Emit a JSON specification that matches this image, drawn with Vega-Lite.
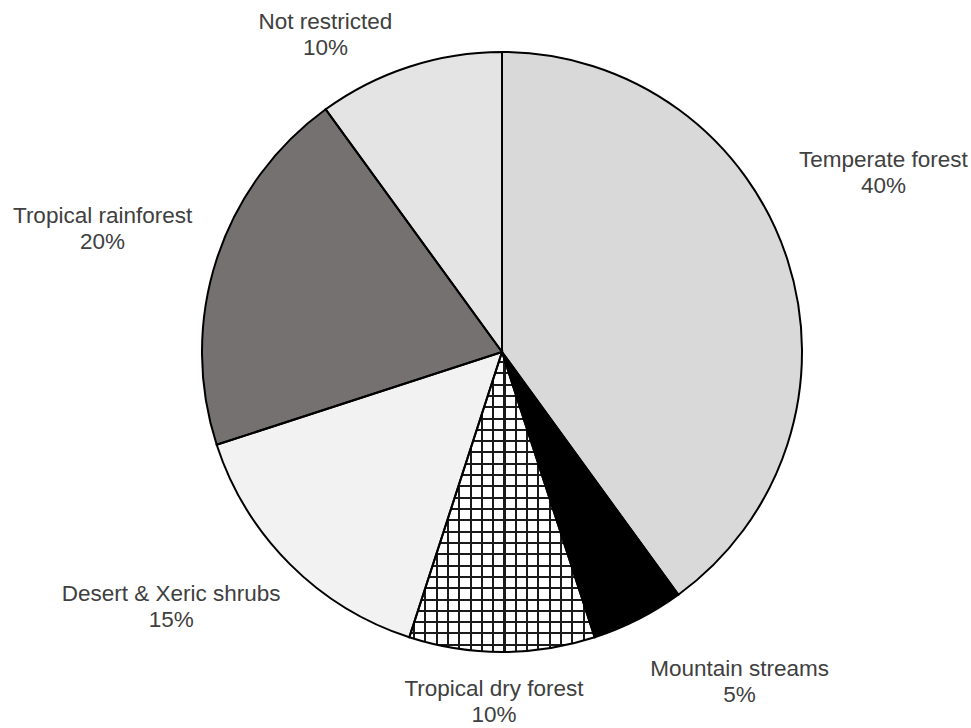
{
  "$schema": "https://vega.github.io/schema/vega-lite/v6.json",
  "width": 600,
  "height": 600,
  "autosize": "none",
  "padding": {"left": 202, "top": 52, "right": 169, "bottom": 76},
  "background": "white",
  "config": {"view": {"stroke": null}},
  "data": {
    "values": [
      {"cat": "Temperate forest", "share": 0.40, "idx": 1},
      {"cat": "Mountain streams", "share": 0.05, "idx": 2},
      {"cat": "Tropical dry forest", "share": 0.10, "idx": 3},
      {"cat": "Desert & Xeric shrubs", "share": 0.15, "idx": 4},
      {"cat": "Tropical rainforest", "share": 0.20, "idx": 5},
      {"cat": "Not restricted", "share": 0.10, "idx": 6}
    ]
  },
  "encoding": {
    "theta": {"field": "share", "type": "quantitative", "stack": true},
    "order": {"field": "idx", "type": "quantitative"}
  },
  "layer": [
    {
      "mark": {"type": "arc"},
      "encoding": {
        "color": {
          "field": "cat",
          "type": "nominal",
          "legend": null,
          "scale": {
            "domain": ["Temperate forest", "Mountain streams", "Tropical dry forest", "Desert & Xeric shrubs", "Tropical rainforest", "Not restricted"],
            "range": ["#d9d9d9", "#000000", "#ffffff", "#f2f2f2", "#767171", "#e4e4e4"]
          }
        }
      }
    },
    {
      "mark": {"type": "arc"},
      "encoding": {
        "fill": {
          "condition": {
            "test": "datum.cat === 'Tropical dry forest'",
            "value": {
              "gradient": "linear", "x1": 0, "y1": 0, "x2": 1, "y2": 0,
              "stops": [
                {"offset": 0.020, "color": "rgba(0,0,0,0)"}, {"offset": 0.020, "color": "#1a1a1a"}, {"offset": 0.031, "color": "#1a1a1a"}, {"offset": 0.031, "color": "rgba(0,0,0,0)"},
                {"offset": 0.081, "color": "rgba(0,0,0,0)"}, {"offset": 0.081, "color": "#1a1a1a"}, {"offset": 0.092, "color": "#1a1a1a"}, {"offset": 0.092, "color": "rgba(0,0,0,0)"},
                {"offset": 0.142, "color": "rgba(0,0,0,0)"}, {"offset": 0.142, "color": "#1a1a1a"}, {"offset": 0.153, "color": "#1a1a1a"}, {"offset": 0.153, "color": "rgba(0,0,0,0)"},
                {"offset": 0.203, "color": "rgba(0,0,0,0)"}, {"offset": 0.203, "color": "#1a1a1a"}, {"offset": 0.214, "color": "#1a1a1a"}, {"offset": 0.214, "color": "rgba(0,0,0,0)"},
                {"offset": 0.264, "color": "rgba(0,0,0,0)"}, {"offset": 0.264, "color": "#1a1a1a"}, {"offset": 0.275, "color": "#1a1a1a"}, {"offset": 0.275, "color": "rgba(0,0,0,0)"},
                {"offset": 0.325, "color": "rgba(0,0,0,0)"}, {"offset": 0.325, "color": "#1a1a1a"}, {"offset": 0.336, "color": "#1a1a1a"}, {"offset": 0.336, "color": "rgba(0,0,0,0)"},
                {"offset": 0.386, "color": "rgba(0,0,0,0)"}, {"offset": 0.386, "color": "#1a1a1a"}, {"offset": 0.397, "color": "#1a1a1a"}, {"offset": 0.397, "color": "rgba(0,0,0,0)"},
                {"offset": 0.447, "color": "rgba(0,0,0,0)"}, {"offset": 0.447, "color": "#1a1a1a"}, {"offset": 0.458, "color": "#1a1a1a"}, {"offset": 0.458, "color": "rgba(0,0,0,0)"},
                {"offset": 0.508, "color": "rgba(0,0,0,0)"}, {"offset": 0.508, "color": "#1a1a1a"}, {"offset": 0.519, "color": "#1a1a1a"}, {"offset": 0.519, "color": "rgba(0,0,0,0)"},
                {"offset": 0.569, "color": "rgba(0,0,0,0)"}, {"offset": 0.569, "color": "#1a1a1a"}, {"offset": 0.580, "color": "#1a1a1a"}, {"offset": 0.580, "color": "rgba(0,0,0,0)"},
                {"offset": 0.630, "color": "rgba(0,0,0,0)"}, {"offset": 0.630, "color": "#1a1a1a"}, {"offset": 0.641, "color": "#1a1a1a"}, {"offset": 0.641, "color": "rgba(0,0,0,0)"},
                {"offset": 0.691, "color": "rgba(0,0,0,0)"}, {"offset": 0.691, "color": "#1a1a1a"}, {"offset": 0.702, "color": "#1a1a1a"}, {"offset": 0.702, "color": "rgba(0,0,0,0)"},
                {"offset": 0.752, "color": "rgba(0,0,0,0)"}, {"offset": 0.752, "color": "#1a1a1a"}, {"offset": 0.763, "color": "#1a1a1a"}, {"offset": 0.763, "color": "rgba(0,0,0,0)"},
                {"offset": 0.813, "color": "rgba(0,0,0,0)"}, {"offset": 0.813, "color": "#1a1a1a"}, {"offset": 0.824, "color": "#1a1a1a"}, {"offset": 0.824, "color": "rgba(0,0,0,0)"},
                {"offset": 0.874, "color": "rgba(0,0,0,0)"}, {"offset": 0.874, "color": "#1a1a1a"}, {"offset": 0.885, "color": "#1a1a1a"}, {"offset": 0.885, "color": "rgba(0,0,0,0)"},
                {"offset": 0.935, "color": "rgba(0,0,0,0)"}, {"offset": 0.935, "color": "#1a1a1a"}, {"offset": 0.946, "color": "#1a1a1a"}, {"offset": 0.946, "color": "rgba(0,0,0,0)"}
              ]
            }
          },
          "value": "transparent"
        }
      }
    },
    {
      "mark": {"type": "arc"},
      "encoding": {
        "fill": {
          "condition": {
            "test": "datum.cat === 'Tropical dry forest'",
            "value": {
              "gradient": "linear", "x1": 0, "y1": 0, "x2": 0, "y2": 1,
              "stops": [
                {"offset": 0.0300, "color": "rgba(0,0,0,0)"}, {"offset": 0.0300, "color": "#1a1a1a"}, {"offset": 0.0367, "color": "#1a1a1a"}, {"offset": 0.0367, "color": "rgba(0,0,0,0)"},
                {"offset": 0.0677, "color": "rgba(0,0,0,0)"}, {"offset": 0.0677, "color": "#1a1a1a"}, {"offset": 0.0744, "color": "#1a1a1a"}, {"offset": 0.0744, "color": "rgba(0,0,0,0)"},
                {"offset": 0.1054, "color": "rgba(0,0,0,0)"}, {"offset": 0.1054, "color": "#1a1a1a"}, {"offset": 0.1121, "color": "#1a1a1a"}, {"offset": 0.1121, "color": "rgba(0,0,0,0)"},
                {"offset": 0.1431, "color": "rgba(0,0,0,0)"}, {"offset": 0.1431, "color": "#1a1a1a"}, {"offset": 0.1498, "color": "#1a1a1a"}, {"offset": 0.1498, "color": "rgba(0,0,0,0)"},
                {"offset": 0.1808, "color": "rgba(0,0,0,0)"}, {"offset": 0.1808, "color": "#1a1a1a"}, {"offset": 0.1875, "color": "#1a1a1a"}, {"offset": 0.1875, "color": "rgba(0,0,0,0)"},
                {"offset": 0.2185, "color": "rgba(0,0,0,0)"}, {"offset": 0.2185, "color": "#1a1a1a"}, {"offset": 0.2252, "color": "#1a1a1a"}, {"offset": 0.2252, "color": "rgba(0,0,0,0)"},
                {"offset": 0.2562, "color": "rgba(0,0,0,0)"}, {"offset": 0.2562, "color": "#1a1a1a"}, {"offset": 0.2629, "color": "#1a1a1a"}, {"offset": 0.2629, "color": "rgba(0,0,0,0)"},
                {"offset": 0.2939, "color": "rgba(0,0,0,0)"}, {"offset": 0.2939, "color": "#1a1a1a"}, {"offset": 0.3006, "color": "#1a1a1a"}, {"offset": 0.3006, "color": "rgba(0,0,0,0)"},
                {"offset": 0.3316, "color": "rgba(0,0,0,0)"}, {"offset": 0.3316, "color": "#1a1a1a"}, {"offset": 0.3383, "color": "#1a1a1a"}, {"offset": 0.3383, "color": "rgba(0,0,0,0)"},
                {"offset": 0.3693, "color": "rgba(0,0,0,0)"}, {"offset": 0.3693, "color": "#1a1a1a"}, {"offset": 0.3760, "color": "#1a1a1a"}, {"offset": 0.3760, "color": "rgba(0,0,0,0)"},
                {"offset": 0.4070, "color": "rgba(0,0,0,0)"}, {"offset": 0.4070, "color": "#1a1a1a"}, {"offset": 0.4137, "color": "#1a1a1a"}, {"offset": 0.4137, "color": "rgba(0,0,0,0)"},
                {"offset": 0.4447, "color": "rgba(0,0,0,0)"}, {"offset": 0.4447, "color": "#1a1a1a"}, {"offset": 0.4514, "color": "#1a1a1a"}, {"offset": 0.4514, "color": "rgba(0,0,0,0)"},
                {"offset": 0.4824, "color": "rgba(0,0,0,0)"}, {"offset": 0.4824, "color": "#1a1a1a"}, {"offset": 0.4891, "color": "#1a1a1a"}, {"offset": 0.4891, "color": "rgba(0,0,0,0)"},
                {"offset": 0.5201, "color": "rgba(0,0,0,0)"}, {"offset": 0.5201, "color": "#1a1a1a"}, {"offset": 0.5268, "color": "#1a1a1a"}, {"offset": 0.5268, "color": "rgba(0,0,0,0)"},
                {"offset": 0.5578, "color": "rgba(0,0,0,0)"}, {"offset": 0.5578, "color": "#1a1a1a"}, {"offset": 0.5645, "color": "#1a1a1a"}, {"offset": 0.5645, "color": "rgba(0,0,0,0)"},
                {"offset": 0.5955, "color": "rgba(0,0,0,0)"}, {"offset": 0.5955, "color": "#1a1a1a"}, {"offset": 0.6022, "color": "#1a1a1a"}, {"offset": 0.6022, "color": "rgba(0,0,0,0)"},
                {"offset": 0.6332, "color": "rgba(0,0,0,0)"}, {"offset": 0.6332, "color": "#1a1a1a"}, {"offset": 0.6399, "color": "#1a1a1a"}, {"offset": 0.6399, "color": "rgba(0,0,0,0)"},
                {"offset": 0.6709, "color": "rgba(0,0,0,0)"}, {"offset": 0.6709, "color": "#1a1a1a"}, {"offset": 0.6776, "color": "#1a1a1a"}, {"offset": 0.6776, "color": "rgba(0,0,0,0)"},
                {"offset": 0.7086, "color": "rgba(0,0,0,0)"}, {"offset": 0.7086, "color": "#1a1a1a"}, {"offset": 0.7153, "color": "#1a1a1a"}, {"offset": 0.7153, "color": "rgba(0,0,0,0)"},
                {"offset": 0.7463, "color": "rgba(0,0,0,0)"}, {"offset": 0.7463, "color": "#1a1a1a"}, {"offset": 0.7530, "color": "#1a1a1a"}, {"offset": 0.7530, "color": "rgba(0,0,0,0)"},
                {"offset": 0.7840, "color": "rgba(0,0,0,0)"}, {"offset": 0.7840, "color": "#1a1a1a"}, {"offset": 0.7907, "color": "#1a1a1a"}, {"offset": 0.7907, "color": "rgba(0,0,0,0)"},
                {"offset": 0.8217, "color": "rgba(0,0,0,0)"}, {"offset": 0.8217, "color": "#1a1a1a"}, {"offset": 0.8284, "color": "#1a1a1a"}, {"offset": 0.8284, "color": "rgba(0,0,0,0)"},
                {"offset": 0.8594, "color": "rgba(0,0,0,0)"}, {"offset": 0.8594, "color": "#1a1a1a"}, {"offset": 0.8661, "color": "#1a1a1a"}, {"offset": 0.8661, "color": "rgba(0,0,0,0)"},
                {"offset": 0.8971, "color": "rgba(0,0,0,0)"}, {"offset": 0.8971, "color": "#1a1a1a"}, {"offset": 0.9038, "color": "#1a1a1a"}, {"offset": 0.9038, "color": "rgba(0,0,0,0)"},
                {"offset": 0.9348, "color": "rgba(0,0,0,0)"}, {"offset": 0.9348, "color": "#1a1a1a"}, {"offset": 0.9415, "color": "#1a1a1a"}, {"offset": 0.9415, "color": "rgba(0,0,0,0)"},
                {"offset": 0.9725, "color": "rgba(0,0,0,0)"}, {"offset": 0.9725, "color": "#1a1a1a"}, {"offset": 0.9792, "color": "#1a1a1a"}, {"offset": 0.9792, "color": "rgba(0,0,0,0)"}
              ]
            }
          },
          "value": "transparent"
        }
      }
    },
    {
      "mark": {"type": "arc", "fillOpacity": 0, "stroke": "#000000", "strokeWidth": 2}
    },
    {
      "mark": {
        "type": "text", "radius": 400, "font": "Liberation Sans", "fontSize": 22.5, "fill": "#404040",
        "align": "center", "baseline": "middle",
        "dx": {"expr": "datum.cat === 'Temperate forest' ? 1 : datum.cat === 'Mountain streams' ? 56 : datum.cat === 'Tropical dry forest' ? -8 : datum.cat === 'Desert & Xeric shrubs' ? -48 : datum.cat === 'Tropical rainforest' ? -19 : -53"},
        "dy": {"expr": "(datum.cat === 'Temperate forest' ? -55 : datum.cat === 'Mountain streams' ? -26 : datum.cat === 'Tropical dry forest' ? -50 : datum.cat === 'Desert & Xeric shrubs' ? -28 : datum.cat === 'Tropical rainforest' ? 1 : 63) - 13"}
      },
      "encoding": {"text": {"field": "cat", "type": "nominal"}}
    },
    {
      "mark": {
        "type": "text", "radius": 400, "font": "Liberation Sans", "fontSize": 22.5, "fill": "#404040",
        "align": "center", "baseline": "middle",
        "dx": {"expr": "datum.cat === 'Temperate forest' ? 1 : datum.cat === 'Mountain streams' ? 56 : datum.cat === 'Tropical dry forest' ? -8 : datum.cat === 'Desert & Xeric shrubs' ? -48 : datum.cat === 'Tropical rainforest' ? -19 : -53"},
        "dy": {"expr": "(datum.cat === 'Temperate forest' ? -55 : datum.cat === 'Mountain streams' ? -26 : datum.cat === 'Tropical dry forest' ? -50 : datum.cat === 'Desert & Xeric shrubs' ? -28 : datum.cat === 'Tropical rainforest' ? 1 : 63) + 13"}
      },
      "encoding": {"text": {"field": "share", "type": "quantitative", "format": ".0%"}}
    }
  ]
}
